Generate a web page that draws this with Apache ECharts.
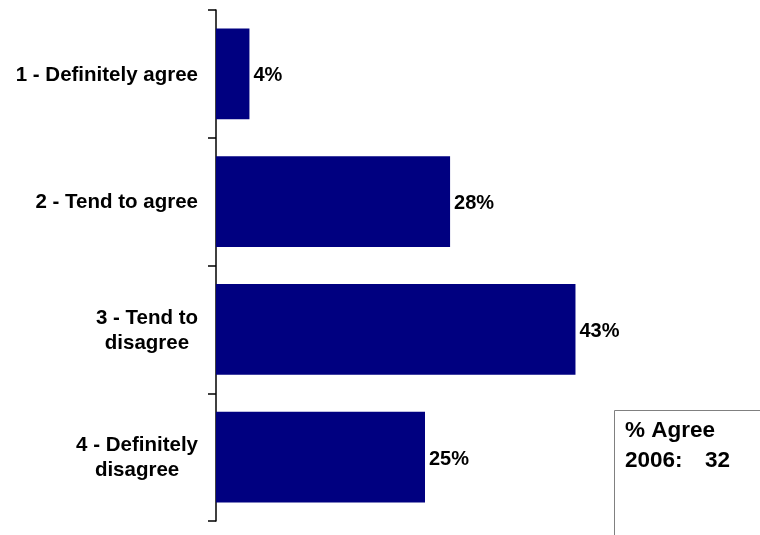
<!DOCTYPE html>
<html>
<head>
<meta charset="utf-8">
<script src="https://cdn.jsdelivr.net/npm/echarts@6/dist/echarts.min.js"></script>
<style>
  html, body { margin: 0; padding: 0; background: #ffffff; }
  #chart { width: 760px; height: 535px; }
</style>
</head>
<body>
<div id="chart"></div>
<script>
// Response categories, top to bottom
var categories = [
  '1 - Definitely agree',
  '2 - Tend to agree',
  '3 - Tend to\ndisagree',
  '4 - Definitely\ndisagree'
];
// Share of respondents (%)
var shares = [4, 28, 43, 25];

// Comparison figure shown in the corner box
var summaryTitle = '% Agree';
var summaryYear = '2006';
var summaryValue = 32;

var FONT = '"Liberation Sans", Arial, Helvetica, sans-serif';

var chart = echarts.init(document.getElementById('chart'), null, { renderer: 'canvas' });

chart.setOption({
  animation: false,
  backgroundColor: '#ffffff',
  grid: { left: 216, right: 126, top: 10, bottom: 14, containLabel: false },
  xAxis: {
    type: 'value',
    min: 0,
    max: 50,
    show: false
  },
  yAxis: {
    type: 'category',
    inverse: true,
    data: categories,
    axisLine: { show: true, lineStyle: { color: '#000000', width: 1.5 } },
    axisTick: { show: true, length: 8, lineStyle: { color: '#000000', width: 1.5 } },
    axisLabel: {
      margin: 18,
      formatter: function (v) {
        return v.split('\n').map(function (l) { return '{c|' + l + '}'; }).join('\n');
      },
      rich: {
        c: {
          align: 'center',
          fontFamily: FONT,
          fontWeight: 'bold',
          fontSize: 20.5,
          lineHeight: 25,
          padding: [2, 0, 0, 0],
          color: '#000000'
        }
      }
    },
    splitLine: { show: false }
  },
  series: [{
    type: 'bar',
    data: shares,
    barCategoryGap: '29%',
    itemStyle: { color: '#000080' },
    label: {
      show: true,
      position: 'right',
      distance: 4,
      offset: [0, 2],
      formatter: '{c}%',
      fontFamily: FONT,
      fontWeight: 'bold',
      fontSize: 20,
      color: '#000000'
    }
  }],
  graphic: [
    {
      type: 'rect',
      left: 614,
      top: 410,
      shape: { width: 200, height: 200 },
      style: { fill: '#ffffff', stroke: '#808080', lineWidth: 1 },
      z: 10
    },
    {
      type: 'text',
      x: 625,
      y: 431,
      style: {
        text: summaryTitle,
        font: 'bold 22.5px ' + FONT,
        fill: '#000000',
        textVerticalAlign: 'middle',
        verticalAlign: 'middle'
      },
      z: 11
    },
    {
      type: 'text',
      x: 625,
      y: 461,
      style: {
        text: summaryYear + ':',
        font: 'bold 22.5px ' + FONT,
        fill: '#000000',
        textVerticalAlign: 'middle',
        verticalAlign: 'middle'
      },
      z: 11
    },
    {
      type: 'text',
      x: 705,
      y: 461,
      style: {
        text: String(summaryValue),
        font: 'bold 22.5px ' + FONT,
        fill: '#000000',
        textVerticalAlign: 'middle',
        verticalAlign: 'middle'
      },
      z: 11
    }
  ]
});
</script>
</body>
</html>
